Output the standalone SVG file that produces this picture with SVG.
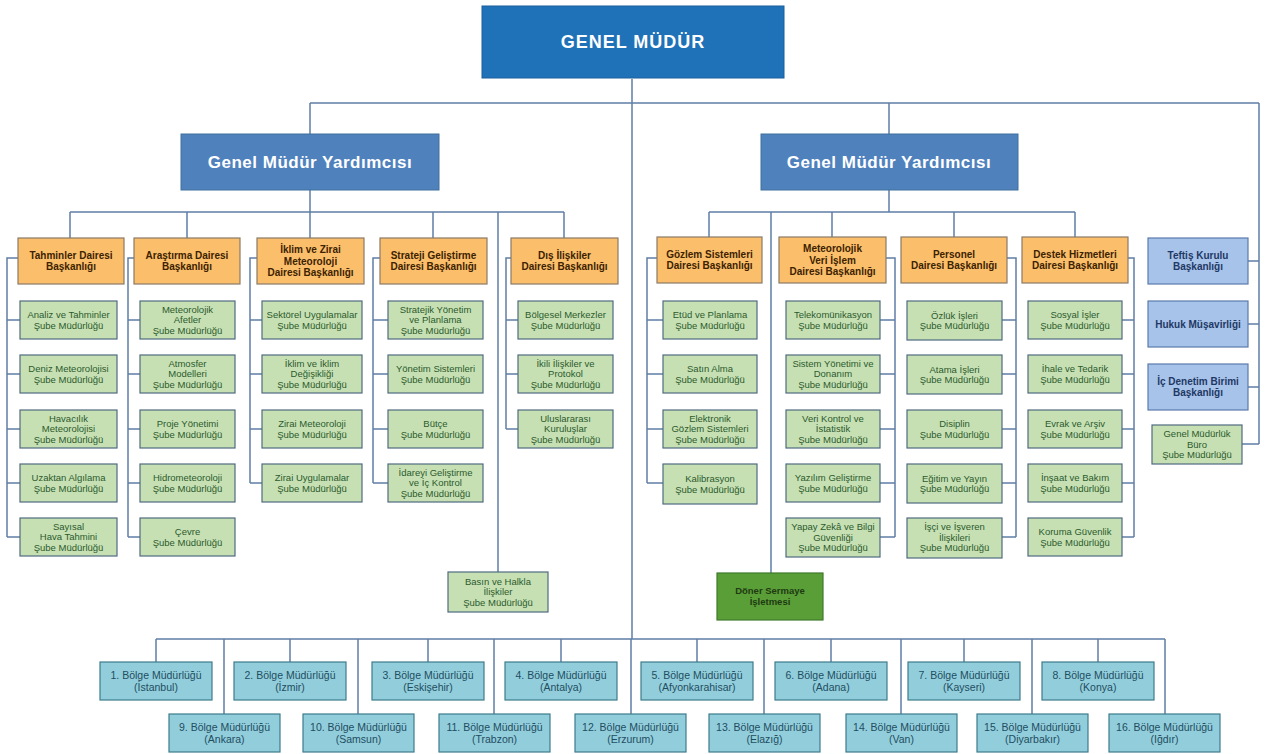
<svg xmlns="http://www.w3.org/2000/svg" width="1265" height="754" viewBox="0 0 1265 754">
<style>
  text { font-family: "Liberation Sans", Arial, sans-serif; text-anchor: middle; }
  .gm rect { fill: #1f72b8; stroke: #1a5f9c; stroke-width: 1; }
  .gm text { fill: #ffffff; font-weight: bold; font-size: 18px; letter-spacing: 1px; }
  .gmy rect { fill: #4f81bd; stroke: #41719c; stroke-width: 1; }
  .gmy text { fill: #ffffff; font-weight: bold; font-size: 17px; letter-spacing: 0.5px; }
  .dept rect { fill: #fbbf6c; stroke: #8c7a66; stroke-width: 1.2; }
  .dept text { fill: #3d2200; font-weight: bold; font-size: 10px; }
  .sub rect { fill: #c6e0b4; stroke: #506a80; stroke-width: 1.2; }
  .sub text { fill: #2c5a2c; font-size: 9.5px; }
  .staff rect { fill: #a7c3ea; stroke: #5b7bab; stroke-width: 1.2; }
  .staff text { fill: #1f3864; font-weight: bold; font-size: 10px; }
  .ent rect { fill: #5a9e37; stroke: #3e7a2a; stroke-width: 1.2; }
  .ent text { fill: #1e3a12; font-weight: bold; font-size: 9.5px; }
  .reg rect { fill: #92cddc; stroke: #3d7c8c; stroke-width: 1.2; }
  .reg text { fill: #1f4e60; font-size: 10.5px; }
  #connectors path { fill: none; stroke: #5f7fa6; stroke-width: 1.5; }
</style>

<!-- connectors -->
<g id="connectors">
  <!-- top level -->
  <path d="M632 79 V639 M310 103 H1259 M310 103 V134 M889 103 V134 M1259 103 V444"/>
  <!-- staff units on the right -->
  <path d="M1248 261 H1259 M1248 324 H1259 M1248 387 H1259 M1242 444 H1259"/>
  <!-- left deputy -->
  <path d="M310 190 V212 M70 212 H564 M70 212 V238 M187 212 V238 M310 212 V238 M433 212 V238 M564 212 V238 M498 212 V572"/>
  <!-- right deputy -->
  <path d="M889 190 V212 M709 212 H1075 M709 212 V237 M771 212 V573 M832 212 V237 M954 212 V237 M1075 212 V237"/>
  <!-- Tahminler -->
  <path d="M18 258 H7 V537 M7 320 H20 M7 374 H20 M7 429 H20 M7 483 H20 M7 537 H20"/>
  <!-- Araştırma -->
  <path d="M134 258 H128 V537 M128 320 H140 M128 374 H140 M128 429 H140 M128 483 H140 M128 537 H140"/>
  <!-- İklim -->
  <path d="M257 258 H250 V483 M250 320 H262 M250 374 H262 M250 429 H262 M250 483 H262"/>
  <!-- Strateji -->
  <path d="M380 258 H373 V483 M373 320 H388 M373 374 H388 M373 429 H388 M373 483 H388"/>
  <!-- Dış İlişkiler -->
  <path d="M511 258 H506 V429 M506 320 H518 M506 374 H518 M506 429 H518"/>
  <!-- Gözlem -->
  <path d="M657 258 H647 V483 M647 320 H663 M647 374 H663 M647 429 H663 M647 483 H663"/>
  <!-- Meteorolojik Veri İşlem -->
  <path d="M886 258 H895 V537 M880 320 H895 M880 374 H895 M880 429 H895 M880 483 H895 M880 537 H895"/>
  <!-- Personel -->
  <path d="M1007 258 H1016 V537 M1002 320 H1016 M1002 374 H1016 M1002 429 H1016 M1002 483 H1016 M1002 537 H1016"/>
  <!-- Destek -->
  <path d="M1128 258 H1134 V537 M1122 320 H1134 M1122 374 H1134 M1122 429 H1134 M1122 483 H1134 M1122 537 H1134"/>
  <!-- regional bus -->
  <path d="M156 639 H1165 M156 639 V662 M290 639 V662 M428 639 V662 M561 639 V662 M697 639 V662 M831 639 V662 M964 639 V662 M1098 639 V662"/>
  <path d="M224 639 V714 M358 639 V714 M494 639 V714 M631 639 V714 M764 639 V714 M901 639 V714 M1032 639 V714 M1165 639 V714"/>
</g>

<!-- head -->
<g id="genel-mudur" class="gm"><rect x="482" y="6" width="302" height="72"/><text x="633" y="48">GENEL MÜDÜR</text></g>
<g id="gmy-left" class="gmy"><rect x="181" y="134" width="258" height="56"/><text x="310" y="168">Genel Müdür Yardımcısı</text></g>
<g id="gmy-right" class="gmy"><rect x="761" y="134" width="257" height="56"/><text x="889" y="168">Genel Müdür Yardımcısı</text></g>

<!-- departments -->
<g id="d-tahmin" class="dept"><rect x="18" y="238" width="106" height="46"/><text x="71" y="258.8">Tahminler Dairesi<tspan x="71" dy="11.5">Başkanlığı</tspan></text></g>
<g id="d-arastirma" class="dept"><rect x="134" y="238" width="106" height="46"/><text x="187" y="258.8">Araştırma Dairesi<tspan x="187" dy="11.5">Başkanlığı</tspan></text></g>
<g id="d-iklim" class="dept"><rect x="257" y="238" width="107" height="46"/><text x="310.5" y="253">İklim ve Zirai<tspan x="310.5" dy="11.5">Meteoroloji</tspan><tspan x="310.5" dy="11.5">Dairesi Başkanlığı</tspan></text></g>
<g id="d-strateji" class="dept"><rect x="380" y="238" width="107" height="46"/><text x="433.5" y="258.8">Strateji Geliştirme<tspan x="433.5" dy="11.5">Dairesi Başkanlığı</tspan></text></g>
<g id="d-dis" class="dept"><rect x="511" y="238" width="107" height="46"/><text x="564.5" y="258.8">Dış İlişkiler<tspan x="564.5" dy="11.5">Dairesi Başkanlığı</tspan></text></g>
<g id="d-gozlem" class="dept"><rect x="657" y="237" width="105" height="46"/><text x="709.5" y="257.8">Gözlem Sistemleri<tspan x="709.5" dy="11.5">Dairesi Başkanlığı</tspan></text></g>
<g id="d-veri" class="dept"><rect x="779" y="237" width="107" height="46"/><text x="832.5" y="252">Meteorolojik<tspan x="832.5" dy="11.5">Veri İşlem</tspan><tspan x="832.5" dy="11.5">Dairesi Başkanlığı</tspan></text></g>
<g id="d-personel" class="dept"><rect x="901" y="237" width="106" height="46"/><text x="954" y="257.8">Personel<tspan x="954" dy="11.5">Dairesi Başkanlığı</tspan></text></g>
<g id="d-destek" class="dept"><rect x="1022" y="237" width="106" height="46"/><text x="1075" y="257.8">Destek Hizmetleri<tspan x="1075" dy="11.5">Dairesi Başkanlığı</tspan></text></g>

<!-- Tahminler branches -->
<g id="s-analiz" class="sub"><rect x="20" y="301" width="97" height="38"/><text x="68.5" y="318">Analiz ve Tahminler<tspan x="68.5" dy="10.5">Şube Müdürlüğü</tspan></text></g>
<g id="s-deniz" class="sub"><rect x="20" y="355" width="97" height="38"/><text x="68.5" y="372">Deniz Meteorolojisi<tspan x="68.5" dy="10.5">Şube Müdürlüğü</tspan></text></g>
<g id="s-havacilik" class="sub"><rect x="20" y="410" width="97" height="38"/><text x="68.5" y="421.8">Havacılık<tspan x="68.5" dy="10.5">Meteorolojisi</tspan><tspan x="68.5" dy="10.5">Şube Müdürlüğü</tspan></text></g>
<g id="s-uzaktan" class="sub"><rect x="20" y="464" width="97" height="38"/><text x="68.5" y="481">Uzaktan Algılama<tspan x="68.5" dy="10.5">Şube Müdürlüğü</tspan></text></g>
<g id="s-sayisal" class="sub"><rect x="20" y="518" width="97" height="38"/><text x="68.5" y="529.8">Sayısal<tspan x="68.5" dy="10.5">Hava Tahmini</tspan><tspan x="68.5" dy="10.5">Şube Müdürlüğü</tspan></text></g>

<!-- Araştırma branches -->
<g id="s-afetler" class="sub"><rect x="140" y="301" width="95" height="38"/><text x="187.5" y="312.8">Meteorolojik<tspan x="187.5" dy="10.5">Afetler</tspan><tspan x="187.5" dy="10.5">Şube Müdürlüğü</tspan></text></g>
<g id="s-atmosfer" class="sub"><rect x="140" y="355" width="95" height="38"/><text x="187.5" y="366.8">Atmosfer<tspan x="187.5" dy="10.5">Modelleri</tspan><tspan x="187.5" dy="10.5">Şube Müdürlüğü</tspan></text></g>
<g id="s-proje" class="sub"><rect x="140" y="410" width="95" height="38"/><text x="187.5" y="427">Proje Yönetimi<tspan x="187.5" dy="10.5">Şube Müdürlüğü</tspan></text></g>
<g id="s-hidro" class="sub"><rect x="140" y="464" width="95" height="38"/><text x="187.5" y="481">Hidrometeoroloji<tspan x="187.5" dy="10.5">Şube Müdürlüğü</tspan></text></g>
<g id="s-cevre" class="sub"><rect x="140" y="518" width="95" height="38"/><text x="187.5" y="535">Çevre<tspan x="187.5" dy="10.5">Şube Müdürlüğü</tspan></text></g>

<!-- İklim branches -->
<g id="s-sektorel" class="sub"><rect x="262" y="301" width="100" height="38"/><text x="312" y="318">Sektörel Uygulamalar<tspan x="312" dy="10.5">Şube Müdürlüğü</tspan></text></g>
<g id="s-iklim" class="sub"><rect x="262" y="355" width="100" height="38"/><text x="312" y="366.8">İklim ve İklim<tspan x="312" dy="10.5">Değişikliği</tspan><tspan x="312" dy="10.5">Şube Müdürlüğü</tspan></text></g>
<g id="s-zirai-met" class="sub"><rect x="262" y="410" width="100" height="38"/><text x="312" y="427">Zirai Meteoroloji<tspan x="312" dy="10.5">Şube Müdürlüğü</tspan></text></g>
<g id="s-zirai-uyg" class="sub"><rect x="262" y="464" width="100" height="38"/><text x="312" y="481">Zirai Uygulamalar<tspan x="312" dy="10.5">Şube Müdürlüğü</tspan></text></g>

<!-- Strateji branches -->
<g id="s-stratejik" class="sub"><rect x="388" y="301" width="95" height="38"/><text x="435.5" y="312.8">Stratejik Yönetim<tspan x="435.5" dy="10.5">ve Planlama</tspan><tspan x="435.5" dy="10.5">Şube Müdürlüğü</tspan></text></g>
<g id="s-yonetim" class="sub"><rect x="388" y="355" width="95" height="38"/><text x="435.5" y="372">Yönetim Sistemleri<tspan x="435.5" dy="10.5">Şube Müdürlüğü</tspan></text></g>
<g id="s-butce" class="sub"><rect x="388" y="410" width="95" height="38"/><text x="435.5" y="427">Bütçe<tspan x="435.5" dy="10.5">Şube Müdürlüğü</tspan></text></g>
<g id="s-idare" class="sub"><rect x="388" y="464" width="95" height="38"/><text x="435.5" y="475.8">İdareyi Geliştirme<tspan x="435.5" dy="10.5">ve İç Kontrol</tspan><tspan x="435.5" dy="10.5">Şube Müdürlüğü</tspan></text></g>

<!-- Dış İlişkiler branches -->
<g id="s-bolgesel" class="sub"><rect x="518" y="301" width="95" height="38"/><text x="565.5" y="318">Bölgesel Merkezler<tspan x="565.5" dy="10.5">Şube Müdürlüğü</tspan></text></g>
<g id="s-ikili" class="sub"><rect x="518" y="355" width="95" height="38"/><text x="565.5" y="366.8">İkili İlişkiler ve<tspan x="565.5" dy="10.5">Protokol</tspan><tspan x="565.5" dy="10.5">Şube Müdürlüğü</tspan></text></g>
<g id="s-uluslararasi" class="sub"><rect x="518" y="410" width="95" height="38"/><text x="565.5" y="421.8">Uluslararası<tspan x="565.5" dy="10.5">Kuruluşlar</tspan><tspan x="565.5" dy="10.5">Şube Müdürlüğü</tspan></text></g>

<g id="s-basin" class="sub"><rect x="448" y="572" width="100" height="40"/><text x="498" y="584.8">Basın ve Halkla<tspan x="498" dy="10.5">İlişkiler</tspan><tspan x="498" dy="10.5">Şube Müdürlüğü</tspan></text></g>

<!-- Gözlem branches -->
<g id="s-etud" class="sub"><rect x="663" y="301" width="94" height="38"/><text x="710" y="318">Etüd ve Planlama<tspan x="710" dy="10.5">Şube Müdürlüğü</tspan></text></g>
<g id="s-satin" class="sub"><rect x="663" y="355" width="94" height="38"/><text x="710" y="372">Satın Alma<tspan x="710" dy="10.5">Şube Müdürlüğü</tspan></text></g>
<g id="s-elektronik" class="sub"><rect x="663" y="410" width="94" height="38"/><text x="710" y="421.8">Elektronik<tspan x="710" dy="10.5">Gözlem Sistemleri</tspan><tspan x="710" dy="10.5">Şube Müdürlüğü</tspan></text></g>
<g id="s-kalibrasyon" class="sub"><rect x="663" y="464" width="94" height="40"/><text x="710" y="482">Kalibrasyon<tspan x="710" dy="10.5">Şube Müdürlüğü</tspan></text></g>

<!-- Veri İşlem branches -->
<g id="s-telekom" class="sub"><rect x="786" y="301" width="94" height="38"/><text x="833" y="318">Telekomünikasyon<tspan x="833" dy="10.5">Şube Müdürlüğü</tspan></text></g>
<g id="s-sistem" class="sub"><rect x="786" y="355" width="94" height="38"/><text x="833" y="366.8">Sistem Yönetimi ve<tspan x="833" dy="10.5">Donanım</tspan><tspan x="833" dy="10.5">Şube Müdürlüğü</tspan></text></g>
<g id="s-veri-kontrol" class="sub"><rect x="786" y="410" width="94" height="38"/><text x="833" y="421.8">Veri Kontrol ve<tspan x="833" dy="10.5">İstatistik</tspan><tspan x="833" dy="10.5">Şube Müdürlüğü</tspan></text></g>
<g id="s-yazilim" class="sub"><rect x="786" y="464" width="94" height="38"/><text x="833" y="481">Yazılım Geliştirme<tspan x="833" dy="10.5">Şube Müdürlüğü</tspan></text></g>
<g id="s-yapay" class="sub"><rect x="786" y="518" width="94" height="39"/><text x="833" y="530">Yapay Zekâ ve Bilgi<tspan x="833" dy="10.5">Güvenliği</tspan><tspan x="833" dy="10.5">Şube Müdürlüğü</tspan></text></g>

<!-- Döner Sermaye -->
<g id="doner" class="ent"><rect x="717" y="573" width="106" height="47"/><text x="770" y="594.3">Döner Sermaye<tspan x="770" dy="11">İşletmesi</tspan></text></g>

<!-- Personel branches -->
<g id="s-ozluk" class="sub"><rect x="907" y="301" width="95" height="39"/><text x="954.5" y="318.5">Özlük İşleri<tspan x="954.5" dy="10.5">Şube Müdürlüğü</tspan></text></g>
<g id="s-atama" class="sub"><rect x="907" y="355" width="95" height="39"/><text x="954.5" y="372.5">Atama İşleri<tspan x="954.5" dy="10.5">Şube Müdürlüğü</tspan></text></g>
<g id="s-disiplin" class="sub"><rect x="907" y="410" width="95" height="38"/><text x="954.5" y="427">Disiplin<tspan x="954.5" dy="10.5">Şube Müdürlüğü</tspan></text></g>
<g id="s-egitim" class="sub"><rect x="907" y="464" width="95" height="39"/><text x="954.5" y="481.5">Eğitim ve Yayın<tspan x="954.5" dy="10.5">Şube Müdürlüğü</tspan></text></g>
<g id="s-isci" class="sub"><rect x="907" y="518" width="95" height="40"/><text x="954.5" y="530.3">İşçi ve İşveren<tspan x="954.5" dy="10.5">İlişkileri</tspan><tspan x="954.5" dy="10.5">Şube Müdürlüğü</tspan></text></g>

<!-- Destek branches -->
<g id="s-sosyal" class="sub"><rect x="1028" y="301" width="94" height="38"/><text x="1075" y="318">Sosyal İşler<tspan x="1075" dy="10.5">Şube Müdürlüğü</tspan></text></g>
<g id="s-ihale" class="sub"><rect x="1028" y="355" width="94" height="38"/><text x="1075" y="372">İhale ve Tedarik<tspan x="1075" dy="10.5">Şube Müdürlüğü</tspan></text></g>
<g id="s-evrak" class="sub"><rect x="1028" y="410" width="94" height="38"/><text x="1075" y="427">Evrak ve Arşiv<tspan x="1075" dy="10.5">Şube Müdürlüğü</tspan></text></g>
<g id="s-insaat" class="sub"><rect x="1028" y="464" width="94" height="38"/><text x="1075" y="481">İnşaat ve Bakım<tspan x="1075" dy="10.5">Şube Müdürlüğü</tspan></text></g>
<g id="s-koruma" class="sub"><rect x="1028" y="518" width="94" height="38"/><text x="1075" y="535">Koruma Güvenlik<tspan x="1075" dy="10.5">Şube Müdürlüğü</tspan></text></g>

<!-- staff units -->
<g id="teftis" class="staff"><rect x="1148" y="238" width="100" height="46"/><text x="1198" y="258.8">Teftiş Kurulu<tspan x="1198" dy="11.5">Başkanlığı</tspan></text></g>
<g id="hukuk" class="staff"><rect x="1148" y="301" width="100" height="46"/><text x="1198" y="327.5">Hukuk Müşavirliği</text></g>
<g id="ic-denetim" class="staff"><rect x="1148" y="364" width="100" height="46"/><text x="1198" y="384.8">İç Denetim Birimi<tspan x="1198" dy="11.5">Başkanlığı</tspan></text></g>
<g id="buro" class="sub"><rect x="1152" y="425" width="90" height="39"/><text x="1197" y="437.3">Genel Müdürlük<tspan x="1197" dy="10.5">Büro</tspan><tspan x="1197" dy="10.5">Şube Müdürlüğü</tspan></text></g>

<!-- regional directorates, upper row -->
<g id="r1" class="reg"><rect x="100" y="662" width="112" height="38"/><text x="156" y="678.7">1. Bölge Müdürlüğü<tspan x="156" dy="12">(İstanbul)</tspan></text></g>
<g id="r2" class="reg"><rect x="234" y="662" width="112" height="38"/><text x="290" y="678.7">2. Bölge Müdürlüğü<tspan x="290" dy="12">(İzmir)</tspan></text></g>
<g id="r3" class="reg"><rect x="372" y="662" width="112" height="38"/><text x="428" y="678.7">3. Bölge Müdürlüğü<tspan x="428" dy="12">(Eskişehir)</tspan></text></g>
<g id="r4" class="reg"><rect x="505" y="662" width="112" height="38"/><text x="561" y="678.7">4. Bölge Müdürlüğü<tspan x="561" dy="12">(Antalya)</tspan></text></g>
<g id="r5" class="reg"><rect x="641" y="662" width="112" height="38"/><text x="697" y="678.7">5. Bölge Müdürlüğü<tspan x="697" dy="12">(Afyonkarahisar)</tspan></text></g>
<g id="r6" class="reg"><rect x="775" y="662" width="112" height="38"/><text x="831" y="678.7">6. Bölge Müdürlüğü<tspan x="831" dy="12">(Adana)</tspan></text></g>
<g id="r7" class="reg"><rect x="908" y="662" width="112" height="38"/><text x="964" y="678.7">7. Bölge Müdürlüğü<tspan x="964" dy="12">(Kayseri)</tspan></text></g>
<g id="r8" class="reg"><rect x="1042" y="662" width="112" height="38"/><text x="1098" y="678.7">8. Bölge Müdürlüğü<tspan x="1098" dy="12">(Konya)</tspan></text></g>

<!-- regional directorates, lower row -->
<g id="r9" class="reg"><rect x="169" y="714" width="111" height="38"/><text x="224.5" y="730.7">9. Bölge Müdürlüğü<tspan x="224.5" dy="12">(Ankara)</tspan></text></g>
<g id="r10" class="reg"><rect x="303" y="714" width="111" height="38"/><text x="358.5" y="730.7">10. Bölge Müdürlüğü<tspan x="358.5" dy="12">(Samsun)</tspan></text></g>
<g id="r11" class="reg"><rect x="439" y="714" width="111" height="38"/><text x="494.5" y="730.7">11. Bölge Müdürlüğü<tspan x="494.5" dy="12">(Trabzon)</tspan></text></g>
<g id="r12" class="reg"><rect x="575" y="714" width="111" height="38"/><text x="630.5" y="730.7">12. Bölge Müdürlüğü<tspan x="630.5" dy="12">(Erzurum)</tspan></text></g>
<g id="r13" class="reg"><rect x="709" y="714" width="111" height="38"/><text x="764.5" y="730.7">13. Bölge Müdürlüğü<tspan x="764.5" dy="12">(Elazığ)</tspan></text></g>
<g id="r14" class="reg"><rect x="846" y="714" width="111" height="38"/><text x="901.5" y="730.7">14. Bölge Müdürlüğü<tspan x="901.5" dy="12">(Van)</tspan></text></g>
<g id="r15" class="reg"><rect x="977" y="714" width="111" height="38"/><text x="1032.5" y="730.7">15. Bölge Müdürlüğü<tspan x="1032.5" dy="12">(Diyarbakır)</tspan></text></g>
<g id="r16" class="reg"><rect x="1109" y="714" width="111" height="38"/><text x="1164.5" y="730.7">16. Bölge Müdürlüğü<tspan x="1164.5" dy="12">(Iğdır)</tspan></text></g>
</svg>
